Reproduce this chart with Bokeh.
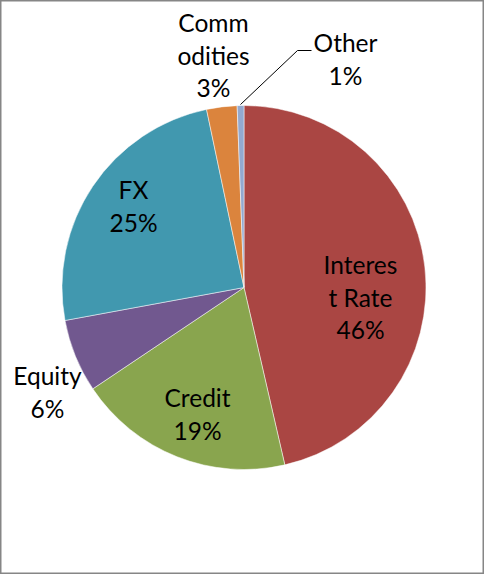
import math
from bokeh.plotting import figure
from bokeh.models import ColumnDataSource, Range1d
from bokeh.core.properties import value
from bokeh.embed import file_html
from bokeh.resources import INLINE

# ---- data ----
categories = ["Interest Rate", "Credit", "Equity", "FX", "Commodities", "Other"]
shares = [46.4, 19.2, 6.5, 24.6, 2.7, 0.6]
pct_labels = ["46%", "19%", "6%", "25%", "3%", "1%"]
colors = ["#AA4643", "#89A54E", "#71588F", "#4198AF", "#DB843D", "#93A9CF"]

# label text lines per category (wrapped as in original)
label_lines = {
    "Interest Rate": ["Interes", "t Rate"],
    "Credit": ["Credit"],
    "Equity": ["Equity"],
    "FX": ["FX"],
    "Commodities": ["Comm", "odities"],
    "Other": ["Other"],
}

# ---- layout (page pixel coordinates) ----
W, H = 484, 574
OFF = 0
def px(x):
    return x - OFF
def py(y):
    return (H + OFF) - y

CX, CY, R = 243.5, 287, 182
label_pos = {  # (center x, first line y) in page pixels
    "Interest Rate": (360, 264),
    "Credit": (197, 397),
    "Equity": (47, 375),
    "FX": (133, 189),
    "Commodities": (213, 22),
    "Other": (345, 42),
}
LINE_H = 32.5

p = figure(width=W, height=H, output_backend="svg", toolbar_location=None,
           x_range=Range1d(0, W), y_range=Range1d(0, H), min_border=0)
p.axis.visible = False
p.grid.visible = False
p.outline_line_color = "#868686"
p.outline_line_width = 2
p.background_fill_color = "white"
p.border_fill_color = "white"

total = sum(shares)
starts, ends = [], []
cum = 0.0
for s in shares:
    a0 = math.pi / 2 - 2 * math.pi * cum / total
    cum += s
    a1 = math.pi / 2 - 2 * math.pi * cum / total
    starts.append(a1)
    ends.append(a0)

src = ColumnDataSource(dict(cat=categories, start=starts, end=ends, color=colors,
                            x=[px(CX)] * len(categories), y=[py(CY)] * len(categories)))
p.wedge(x="x", y="y", radius=R, start_angle="start", end_angle="end",
        fill_color="color", line_color="white", line_width=0.5, source=src)

tx, ty, tt = [], [], []
for cat, pl in zip(categories, pct_labels):
    lx, ly = label_pos[cat]
    lines = label_lines[cat] + [pl]
    for i, ln in enumerate(lines):
        tx.append(px(lx))
        ty.append(py(ly + i * LINE_H))
        tt.append(ln)
p.text(x=tx, y=ty, text=tt, text_align="center", text_baseline="middle",
       text_font=value("Lato"), text_font_size="24.5px", text_color="black")

# leader line for "Other"
p.line(x=[px(240), px(297), px(311)], y=[py(104), py(50), py(50)],
       line_color="black", line_width=1)

open("out.html", "w").write(file_html(p, INLINE))
